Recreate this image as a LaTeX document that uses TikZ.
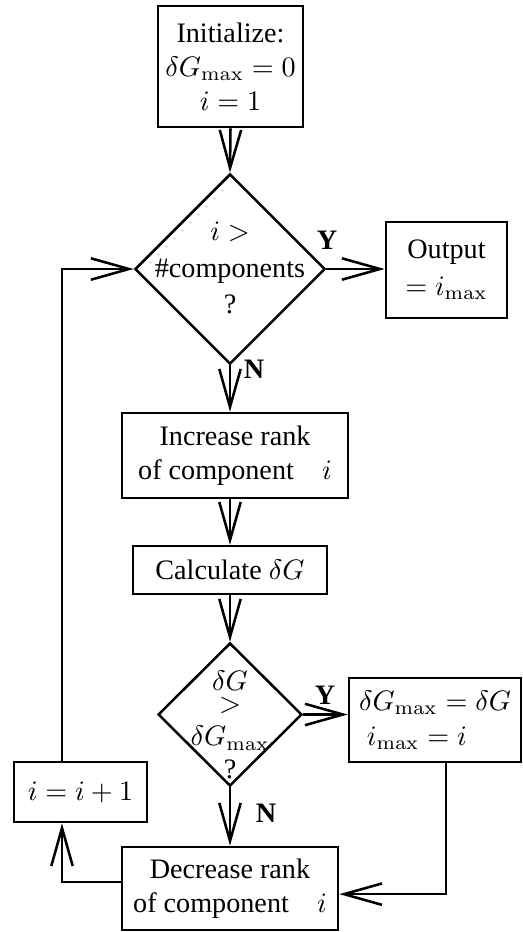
\documentclass[tikz,border=0pt]{standalone}
\usepackage[no-math]{fontspec}
\setmainfont{Liberation Serif}
\usetikzlibrary{shapes.geometric,arrows.meta}
\begin{document}
\begin{tikzpicture}[x=0.355pt,y=-0.355pt,
  line width=0.9pt,
  box/.style={draw,rectangle,inner sep=0pt,align=center},
  dia/.style={draw,diamond,inner sep=0pt},
  lbl/.style={inner sep=0pt,align=center},
  yn/.style={inner sep=0pt,font=\bfseries},
  arr/.style={-{Straight Barb[length=13.5pt,width=7.6pt,line width=0.9pt]}}]
\useasboundingbox (0,0) rectangle (522,932);
% nodes
\node[box,minimum width=51.5pt,minimum height=43pt] (init) at (230.5,66.5)
  {Initialize:\\$\delta G_{\max}=0$\\$i=1$};
\node[dia,minimum width=67.5pt,minimum height=67.5pt] (d1) at (230,269) {};
\node[lbl] (d1t) at (230,268) {$i>$\\[1pt]\#components\\[1pt]?};
\node[box,minimum width=43pt,minimum height=34pt] (out) at (446.5,270)
  {Output\\[1pt]$=i_{\max}$};
\node[box,minimum width=80.2pt,minimum height=30.2pt] (inc) at (235,455.5)
  {Increase rank\\of component\quad$i$};
\node[box,minimum width=68.9pt,minimum height=17pt] (calc) at (230,570)
  {Calculate $\delta G$};
\node[dia,minimum width=51.1pt,minimum height=50.8pt] (d2) at (230,714.5) {};
\node[lbl] (d2t) at (230,725) {$\delta G$\\[-4.5pt]$>$\\[0pt]$\delta G_{\max}$\\[-0.5pt]?};
\node[box,minimum width=61.1pt,minimum height=29.8pt,align=left] (dgb) at (435,720)
  {$\delta G_{\max}=\delta G$\\[0.4pt]\;$i_{\max}=i$};
\node[box,minimum width=47.2pt,minimum height=21.3pt] (upd) at (80.5,792)
  {$i=i+1$};
\node[box,minimum width=76.7pt,minimum height=29.5pt] (dec) at (230,888.5)
  {Decrease rank\\of component\quad$i$};
% labels
\node[yn] (y1) at (327,240) {Y};
\node[yn] (n1) at (254,369) {N};
\node[yn] (y2) at (325,695) {Y};
\node[yn] (n2) at (266,813) {N};
% helper coordinates
\coordinate (lx) at (62,0);
\coordinate (rx) at (446,0);
% connectors
\draw[arr] (init.south) -- (d1.north);
\draw[arr] (d1.east) -- (d1.east -| out.west);
\draw[arr] (d1.south) -- (d1.south |- inc.north);
\draw[arr] (calc.north |- inc.south) -- (calc.north);
\draw[arr] (calc.south) -- (d2.north);
\draw[arr] (d2.east) -- (d2.east -| dgb.west);
\draw[arr] (d2.south) -- (dec.north);
\draw[arr] (rx |- dgb.south) |- ([yshift=-2pt]dec.east);
\draw[arr] ([yshift=2.3pt]dec.west) -| (lx |- upd.south);
\draw[arr] (lx |- upd.north) |- (d1.west);
\end{tikzpicture}
\end{document}
